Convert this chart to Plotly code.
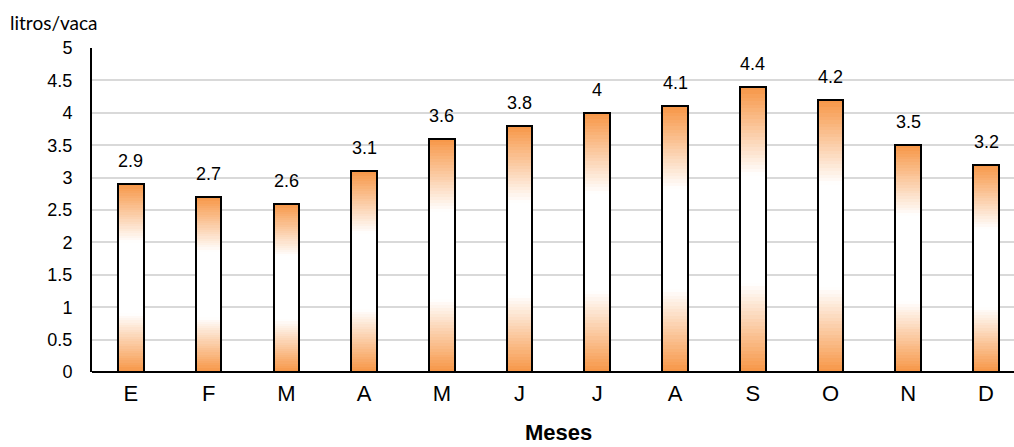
import plotly.graph_objects as go

# Monthly milk yield per cow
months = ["E", "F", "M", "A", "M", "J", "J", "A", "S", "O", "N", "D"]
litros = [2.9, 2.7, 2.6, 3.1, 3.6, 3.8, 4.0, 4.1, 4.4, 4.2, 3.5, 3.2]
y_ticks = [0, 0.5, 1, 1.5, 2, 2.5, 3, 3.5, 4, 4.5, 5]

ORANGE = (247, 150, 70)
WHITE = (255, 255, 255)
BAR_W = 0.33
N_STEPS = 80

x_pos = list(range(len(months)))


def shade(p):
    """Vertical fill colour at relative height p (0 = base, 1 = top)."""
    if p < 0.31:
        t = p / 0.31
    elif p > 0.69:
        t = (1 - p) / 0.31
    else:
        t = 1.0
    c = [round(o + (w - o) * t) for o, w in zip(ORANGE, WHITE)]
    return f"rgb({c[0]},{c[1]},{c[2]})"


fig = go.Figure()

# Gradient fill: nested bars, tallest first, each shorter one painted on top
for k in range(N_STEPS):
    frac = (N_STEPS - k) / N_STEPS
    fig.add_trace(go.Bar(
        x=x_pos,
        y=[v * frac for v in litros],
        width=BAR_W,
        marker=dict(color=shade(frac - 0.5 / N_STEPS), line=dict(width=0)),
        hoverinfo="skip",
        showlegend=False,
    ))

# Outline of each bar
fig.add_trace(go.Bar(
    x=x_pos,
    y=litros,
    width=BAR_W,
    marker=dict(color="rgba(0,0,0,0)", line=dict(color="black", width=2)),
    showlegend=False,
    hovertemplate="%{y}<extra></extra>",
))

# Value labels above the bars
for xi, v in zip(x_pos, litros):
    fig.add_annotation(
        x=xi, y=v, text=f"{v:g}", showarrow=False,
        yanchor="bottom", yshift=11,
        font=dict(family="Liberation Sans, Arial", size=18, color="black"),
    )

# Axis titles
fig.add_annotation(
    x=5.5, xref="x", y=-0.188, yref="paper", text="<b>Meses</b>",
    showarrow=False, yanchor="middle",
    font=dict(family="Liberation Sans, Arial", size=22, color="black"),
)
fig.add_annotation(
    x=0, xref="paper", xanchor="left", xshift=-84,
    y=1.0, yref="paper", yanchor="bottom", yshift=12,
    text="litros/vaca", showarrow=False,
    font=dict(family="Lato, Open Sans", size=19, color="black"),
)

fig.update_layout(
    width=1014, height=447,
    margin=dict(l=92, r=0, t=48, b=75),
    barmode="overlay",
    bargap=0,
    plot_bgcolor="white",
    paper_bgcolor="white",
    xaxis=dict(
        range=[-0.5, 11.36],
        tickvals=x_pos, ticktext=months,
        tickfont=dict(family="Liberation Sans, Arial", size=22, color="black"),
        showgrid=False, zeroline=False,
        showline=False, ticks="", ticklabelstandoff=6,
    ),
    yaxis=dict(
        range=[0, 5],
        tickvals=y_ticks,
        ticktext=[f"{t:g}" for t in y_ticks],
        tickfont=dict(family="Liberation Sans, Arial", size=18, color="black"),
        showgrid=True, gridcolor="#D9D9D9", gridwidth=1.5,
        zeroline=True, zerolinecolor="black", zerolinewidth=2,
        showline=True, linecolor="black", linewidth=2,
        ticks="", ticklabelstandoff=14,
    ),
)

fig.write_html("out.html")
